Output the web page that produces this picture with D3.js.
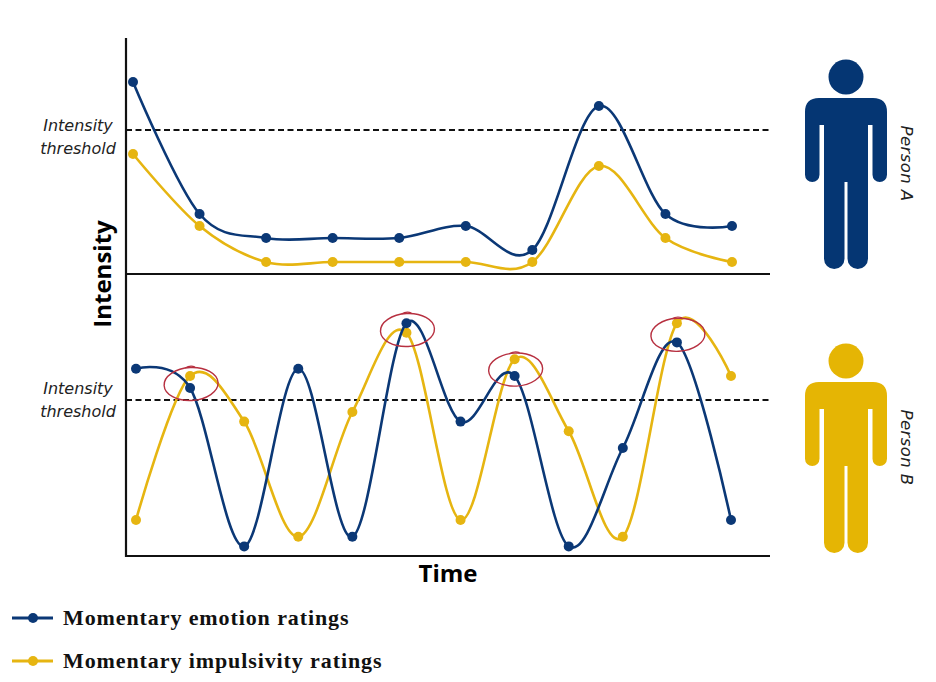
<!DOCTYPE html>
<html>
<head>
<meta charset="utf-8">
<script src="https://cdn.jsdelivr.net/npm/d3@7"></script>
<style>
  html, body { margin: 0; padding: 0; background: #fff; }
  svg { display: block; }
</style>
</head>
<body>
<div id="chart"></div>
<script>
// ---------------------------------------------------------------------------
// Data (intensity on a 0-10 scale)

const topMoments = [1, 2, 3, 4, 5, 6, 7, 8, 9, 10];
const topEmotion = [8.0, 2.5, 1.5, 1.5, 1.5, 2.0, 1.0, 7.0, 2.5, 2.0];
const topImpulsivity = [5.0, 2.0, 0.5, 0.5, 0.5, 0.5, 0.5, 4.5, 1.5, 0.5];
const topThreshold = 6.0;

const bottomMoments = [1, 2, 3, 4, 5, 6, 7, 8, 9, 10, 11, 12];
const bottomEmotion = [7.8, 7.0, 0.4, 7.8, 0.8, 9.7, 5.6, 7.5, 0.4, 4.5, 8.9, 1.5];
const bottomImpulsivity = [1.5, 7.5, 5.6, 0.8, 6.0, 9.3, 1.5, 8.2, 5.2, 0.8, 9.7, 7.5];
const bottomThreshold = 6.5;
// moments where both ratings peak above threshold (circled)
const flaggedMoments = [2, 6, 8, 11];

const persons = ['Person A', 'Person B'];
const legendLabels = ['Momentary emotion ratings', 'Momentary impulsivity ratings'];

// ---------------------------------------------------------------------------
// Layout

const width = 936;
const height = 682;
const navy = '#0b3876';
const gold = '#e6b511';
const figNavy = '#053673';
const figGold = '#e5b504';
const ringRed = '#b73040';

const axisX = 126;
const axisRight = 770;
const axisTop = 38;

const svg = d3.select('#chart')
  .append('svg')
  .attr('width', width)
  .attr('height', height);

svg.append('rect')
  .attr('width', width)
  .attr('height', height)
  .attr('fill', '#fff');

const lineGen = (x, y) => d3.line()
  .x(d => x(d.t))
  .y(d => y(d.v))
  .curve(d3.curveCatmullRom.alpha(0));

/**
 * draw one panel: threshold, two series, dots
 */
function drawPanel(moments, emotion, impulsivity, threshold, x, y, labelY) {
  const g = svg.append('g');

  g.append('line')
    .attr('x1', axisX)
    .attr('x2', axisRight)
    .attr('y1', y(threshold))
    .attr('y2', y(threshold))
    .attr('stroke', '#111')
    .attr('stroke-width', 2)
    .attr('stroke-dasharray', '6,3.5');

  const label = g.append('text')
    .attr('x', 78)
    .attr('text-anchor', 'middle')
    .attr('font-family', 'DejaVu Sans')
    .attr('font-style', 'italic')
    .attr('font-size', 16)
    .attr('fill', '#222');
  label.append('tspan').attr('x', 78).attr('y', labelY).text('Intensity');
  label.append('tspan').attr('x', 78).attr('y', labelY + 23).text('threshold');

  const series = [
    { values: impulsivity, color: gold },
    { values: emotion, color: navy }
  ];
  series.forEach(s => {
    const pts = moments.map((t, i) => ({ t: t, v: s.values[i] }));
    g.append('path')
      .datum(pts)
      .attr('fill', 'none')
      .attr('stroke', s.color)
      .attr('stroke-width', 2.6)
      .attr('d', lineGen(x, y));
    g.selectAll(null)
      .data(pts)
      .enter()
      .append('circle')
      .attr('cx', d => x(d.t))
      .attr('cy', d => y(d.v))
      .attr('r', 5)
      .attr('fill', s.color);
  });
  return g;
}

// top panel (Person A)
const xTop = d3.scaleLinear().domain([1, 10]).range([133, 732]);
const yTop = d3.scaleLinear().domain([0, 10]).range([274, 34]);
drawPanel(topMoments, topEmotion, topImpulsivity, topThreshold, xTop, yTop, 131);

// bottom panel (Person B)
const xBot = d3.scaleLinear().domain([1, 12]).range([136, 731]);
const yBot = d3.scaleLinear().domain([0, 10]).range([556, 316]);
const botG = drawPanel(bottomMoments, bottomEmotion, bottomImpulsivity, bottomThreshold, xBot, yBot, 394);

// hand-drawn rings around co-occurring peaks
flaggedMoments.forEach(t => {
  const i = bottomMoments.indexOf(t);
  const cx = xBot(t) + 1;
  const cy = (yBot(bottomEmotion[i]) + yBot(bottomImpulsivity[i])) / 2 + 2;
  botG.append('ellipse')
    .attr('cx', cx)
    .attr('cy', cy)
    .attr('rx', 27)
    .attr('ry', 16.5)
    .attr('fill', 'none')
    .attr('stroke', ringRed)
    .attr('stroke-width', 1.4)
    .attr('transform', `rotate(-3 ${cx} ${cy})`);
  botG.append('path')
    .attr('d', `M${cx - 6} ${cy - 16} q 5 -3 10 -1`)
    .attr('fill', 'none')
    .attr('stroke', ringRed)
    .attr('stroke-width', 1.2);
});

// axes
svg.append('line')
  .attr('x1', axisX).attr('x2', axisX)
  .attr('y1', axisTop).attr('y2', yBot(0) + 1)
  .attr('stroke', '#111').attr('stroke-width', 2.2);
[yTop(0), yBot(0)].forEach(yy => {
  svg.append('line')
    .attr('x1', axisX).attr('x2', axisRight)
    .attr('y1', yy).attr('y2', yy)
    .attr('stroke', '#111').attr('stroke-width', 2.2);
});

svg.append('text')
  .attr('transform', 'translate(111,274) rotate(-90)')
  .attr('text-anchor', 'middle')
  .attr('font-family', 'Open Sans')
  .attr('font-weight', 700)
  .attr('font-size', 24)
  .attr('fill', '#000')
  .text('Intensity');

svg.append('text')
  .attr('x', 448)
  .attr('y', 582)
  .attr('text-anchor', 'middle')
  .attr('font-family', 'Open Sans')
  .attr('font-weight', 700)
  .attr('font-size', 24)
  .attr('fill', '#000')
  .text('Time');

// person figures
function drawPerson(top, color, name) {
  const g = svg.append('g').attr('transform', `translate(846,${top})`);
  g.append('circle').attr('cx', 0).attr('cy', -21).attr('r', 17.5).attr('fill', color);
  const W = 41, r = 14, armIn = 26.5, torso = 22, gap = 1.5, A = 84, L = 171;
  const ar = (W - armIn) / 2, lr = (torso - gap) / 2;
  const d = [
    `M${-W + r},0`, `H${W - r}`, `Q${W},0 ${W},${r}`,
    `V${A - ar}`, `A${ar},${ar} 0 0 1 ${armIn},${A - ar}`,
    `V27`, `H${torso}`,
    `V${L - lr}`, `A${lr},${lr} 0 0 1 ${gap},${L - lr}`,
    `V${A}`, `H${-gap}`,
    `V${L - lr}`, `A${lr},${lr} 0 0 1 ${-torso},${L - lr}`,
    `V27`, `H${-armIn}`,
    `V${A - ar}`, `A${ar},${ar} 0 0 1 ${-W},${A - ar}`,
    `V${r}`, `Q${-W},0 ${-W + r},0`, 'Z'
  ].join(' ');
  g.append('path').attr('d', d).attr('fill', color);
  g.append('text')
    .attr('transform', `translate(55,${L / 2 - 20}) rotate(90)`)
    .attr('text-anchor', 'middle')
    .attr('font-family', 'DejaVu Sans')
    .attr('font-style', 'italic')
    .attr('font-size', 16.5)
    .attr('letter-spacing', 0.4)
    .attr('fill', '#222')
    .text(name);
}
drawPerson(98, figNavy, persons[0]);
drawPerson(382, figGold, persons[1]);

// legend
const legend = svg.append('g');
[navy, gold].forEach((c, i) => {
  const yy = 618 + i * 43;
  legend.append('line')
    .attr('x1', 12).attr('x2', 53)
    .attr('y1', yy).attr('y2', yy)
    .attr('stroke', c).attr('stroke-width', 3);
  legend.append('circle')
    .attr('cx', 33).attr('cy', yy).attr('r', 5).attr('fill', c);
  legend.append('text')
    .attr('x', 63)
    .attr('y', yy + 7)
    .attr('font-family', 'Liberation Serif')
    .attr('font-weight', 700)
    .attr('font-size', 22)
    .attr('letter-spacing', 0.9)
    .attr('fill', '#111')
    .text(legendLabels[i]);
});
</script>
</body>
</html>
